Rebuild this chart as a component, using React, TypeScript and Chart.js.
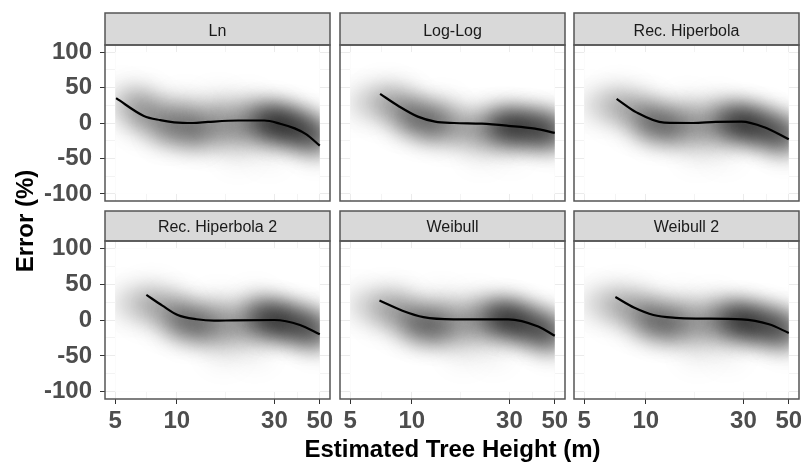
import React, { useEffect, useRef } from 'react';
import { Chart, registerables } from 'chart.js';

Chart.register(...registerables);

// ---------- data ----------
const PANEL_TITLES = ['Ln', 'Log-Log', 'Rec. Hiperbola', 'Rec. Hiperbola 2', 'Weibull', 'Weibull 2'];
const X_MAJOR = [5, 10, 30, 50];
const X_MINOR = [7.07, 17.32, 38.73];
const Y_MAJOR = [-100, -50, 0, 50, 100];
const Y_MINOR = [-75, -25, 25, 75];
const RASTER_X = [5, 50];
const RASTER_Y = [-100, 100];
const X_TITLE = 'Estimated Tree Height (m)';
const Y_TITLE = 'Error (%)';

// smoothed trend lines
const lnX = [5.05, 6.9, 8.3, 9.7, 12, 14.2, 20, 26.8, 32, 37.7, 43, 50];
const lnY = [35, 10, 4, 1, 0, 1.5, 3.5, 3.5, -1, -7.6, -16, -32];
const logLogX = [7.0, 8.6, 10.7, 13, 16.1, 22, 29.6, 40, 50];
const logLogY = [41, 24, 9, 2, 0, -1, -4, -8, -14];
const recHipX = [7.2, 9, 12.3, 17, 22, 29.4, 38, 50];
const recHipY = [34, 15, 0.5, 0, 1.5, 2, -6, -23];
const recHip2X = [7.1, 8.5, 10.1, 12.5, 15.2, 19, 30, 40, 50];
const recHip2Y = [35, 20, 7, 1, -1, -0.5, 0, -7, -20];
const weibullX = [6.95, 9, 11.4, 16, 22, 29.6, 41.5, 50];
const weibullY = [27, 13, 4, 1, 1, 1, -9, -22];
const weibull2X = [7.1, 8.8, 10.9, 14, 17.9, 29.4, 40, 50];
const weibull2Y = [32, 17, 7, 3, 2, 1, -6, -18];

// density clouds: [x, y, spread (%), density]
const lnDensity = [
  [6.5, 20, 26, 0.28], [7.5, 10, 26, 0.28], [9.4, 0, 26, 0.3], [11.7, -6, 26, 0.3], [14.6, -8, 26, 0.3],
  [18.3, -6, 26, 0.3], [22.9, -2, 26, 0.3], [28.6, 0, 26, 0.3], [35.8, -6, 26, 0.3], [44.7, -16, 24, 0.3],
  [50, -24, 24, 0.3],
  [11, 18, 20, 0.16], [16, 20, 20, 0.2], [22, 18, 20, 0.16],
  [9, -8, 18, 0.35], [12, -12, 18, 0.4],
  [27, 2, 18, 0.7], [31, 0, 18, 0.75], [35, -4, 18, 0.7], [40, -10, 17, 0.65], [46, -16, 16, 0.6],
  [5.4, 32, 20, 0.12], [6.3, 28, 18, 0.1],
  [20, -38, 22, 0.08], [28, -40, 20, 0.07],
];
const logLogDensity = [
  [7.5, 28, 24, 0.3], [9.4, 14, 24, 0.3], [11.7, 2, 24, 0.3], [14.6, -4, 24, 0.3], [18.3, -8, 24, 0.3],
  [22.9, -8, 24, 0.3], [28.6, -6, 24, 0.3], [35.8, -8, 24, 0.3], [44.7, -11, 24, 0.3], [50, -13, 24, 0.3],
  [10, 8, 18, 0.5], [12.5, 0, 18, 0.5],
  [27, -4, 18, 0.65], [31, -5, 18, 0.75], [36, -6, 18, 0.7], [42, -9, 17, 0.6], [48, -12, 16, 0.55],
  [9, 32, 18, 0.14], [14, 14, 20, 0.14],
  [5.5, 28, 20, 0.12], [6.5, 30, 18, 0.12],
  [22, -36, 22, 0.08], [30, -36, 20, 0.07],
];
const recHipDensity = [
  [7.5, 24, 24, 0.3], [9.4, 10, 24, 0.3], [11.7, -2, 24, 0.3], [14.6, -6, 24, 0.3], [18.3, -6, 24, 0.3],
  [22.9, -2, 24, 0.3], [28.6, 0, 24, 0.3], [35.8, -6, 24, 0.3], [44.7, -15, 24, 0.3], [50, -21, 24, 0.3],
  [10.5, 0, 18, 0.5], [13, -4, 18, 0.5],
  [26, 2, 18, 0.65], [30, 0, 18, 0.75], [34, -4, 18, 0.7], [40, -10, 17, 0.6], [46, -16, 16, 0.55],
  [10, 22, 18, 0.14], [16, 16, 20, 0.16], [22, 16, 20, 0.14],
  [5.5, 26, 20, 0.12], [6.5, 24, 18, 0.12],
  [18, -36, 22, 0.08], [24, -38, 20, 0.07],
];
const recHip2Density = [
  [7.5, 22, 24, 0.3], [9.4, 8, 24, 0.3], [11.7, -4, 24, 0.3], [14.6, -8, 24, 0.3], [18.3, -8, 24, 0.3],
  [22.9, -4, 24, 0.3], [28.6, 0, 24, 0.3], [35.8, -5, 24, 0.3], [44.7, -12, 24, 0.3], [50, -18, 24, 0.3],
  [10.5, -2, 18, 0.45], [13, -6, 18, 0.48],
  [26, 4, 18, 0.6], [30, 1, 18, 0.7], [34, -3, 18, 0.68], [40, -8, 17, 0.6], [46, -13, 16, 0.55],
  [10, 20, 18, 0.14], [16, 14, 20, 0.15], [24, 18, 20, 0.15],
  [5.5, 24, 20, 0.12], [6.5, 22, 18, 0.12],
  [17, -40, 22, 0.09], [24, -42, 20, 0.08],
];
const weibullDensity = [
  [7.5, 16, 24, 0.3], [9.4, 4, 24, 0.3], [11.7, -6, 24, 0.3], [14.6, -8, 24, 0.3], [18.3, -6, 24, 0.3],
  [22.9, -2, 24, 0.3], [28.6, 0, 24, 0.3], [35.8, -6, 24, 0.3], [44.7, -15, 24, 0.3], [50, -22, 24, 0.3],
  [10.5, -6, 18, 0.48], [13, -10, 18, 0.5],
  [26, 5, 18, 0.7], [30, 2, 18, 0.75], [34, -4, 18, 0.68], [40, -11, 17, 0.6], [46, -17, 16, 0.55],
  [9, 22, 18, 0.15], [14, 18, 20, 0.16], [20, 15, 20, 0.16],
  [5.5, 22, 20, 0.12], [6.5, 18, 18, 0.13],
  [18, -40, 22, 0.08], [25, -42, 20, 0.07],
];
const weibull2Density = [
  [7.5, 20, 24, 0.3], [9.4, 8, 24, 0.3], [11.7, -2, 24, 0.3], [14.6, -6, 24, 0.3], [18.3, -6, 24, 0.3],
  [22.9, -3, 24, 0.3], [28.6, -2, 24, 0.3], [35.8, -6, 24, 0.3], [44.7, -12, 24, 0.3], [50, -17, 24, 0.3],
  [10.5, -2, 18, 0.45], [13, -6, 18, 0.48],
  [26, 2, 18, 0.65], [30, -2, 18, 0.75], [34, -5, 18, 0.68], [40, -9, 17, 0.6], [46, -13, 16, 0.55],
  [10, 22, 18, 0.14], [15, 16, 20, 0.15], [21, 14, 20, 0.14],
  [5.5, 24, 20, 0.12], [6.5, 22, 18, 0.12],
  [18, -40, 22, 0.08], [25, -42, 20, 0.07],
];

const PANELS = [
  { x: lnX, y: lnY, d: lnDensity },
  { x: logLogX, y: logLogY, d: logLogDensity },
  { x: recHipX, y: recHipY, d: recHipDensity },
  { x: recHip2X, y: recHip2Y, d: recHip2Density },
  { x: weibullX, y: weibullY, d: weibullDensity },
  { x: weibull2X, y: weibull2Y, d: weibull2Density },
];

// ---------- layout ----------
const FONT = '"Liberation Sans", Arial, Helvetica, sans-serif';
const COL_LEFT = [105, 340, 574];
const PANEL_W = 225;
const STRIP_TOP = [13, 211];
const STRIP_H = [32, 30];
const PLOT_H = [156, 158];
const Y_AXIS_W = 105;
const X_AXIS_H = 40;
const FRAME = '#555555';
const GRID_MAJOR = '#EBEBEB';
const GRID_MINOR = '#F3F3F3';
const BLUR = 'blur(12px)';

const X_LOG_MIN = Math.pow(10, Math.log10(RASTER_X[0]) - 0.05);
const X_LOG_MAX = Math.pow(10, Math.log10(RASTER_X[1]) + 0.05);

function geometry(i: number) {
  const row = Math.floor(i / 3);
  const col = i % 3;
  const isLeft = col === 0;
  const isBottom = row === 1;
  const padL = isLeft ? 0 : 6;
  const padR = 8;
  const padT = 1;
  const padB = isBottom ? 0 : 2;
  const yw = isLeft ? Y_AXIS_W : 0;
  const xh = isBottom ? X_AXIS_H : 0;
  const left = COL_LEFT[col] - yw - padL;
  const top = STRIP_TOP[row] - padT;
  const width = padL + yw + PANEL_W + padR;
  const height = padT + STRIP_H[row] + PLOT_H[row] + xh + padB;
  return { row, col, isLeft, isBottom, padL, padR, padT, padB, yw, xh, left, top, width, height };
}

function rasterRect(chart: any) {
  const { scales } = chart;
  const l = scales.x.getPixelForValue(RASTER_X[0]);
  const r = scales.x.getPixelForValue(RASTER_X[1]);
  const t = scales.y.getPixelForValue(RASTER_Y[1]);
  const b = scales.y.getPixelForValue(RASTER_Y[0]);
  return { l, r, t, b };
}

const decoPlugin = {
  id: 'facetDeco',
  beforeDraw(chart: any) {
    const { ctx, chartArea: a } = chart;
    const tb = chart.titleBlock;
    ctx.save();
    ctx.fillStyle = '#D9D9D9';
    ctx.fillRect(a.left, tb.top, a.right - a.left, a.top - tb.top);
    ctx.fillStyle = '#FFFFFF';
    ctx.fillRect(a.left, a.top, a.right - a.left, a.bottom - a.top);
    ctx.restore();
  },
  beforeDatasetsDraw(chart: any) {
    const { ctx } = chart;
    const { l, r, t, b } = rasterRect(chart);
    ctx.save();
    ctx.fillStyle = '#FFFFFF';
    ctx.fillRect(l, t, r - l, b - t);
    ctx.restore();
  },
  beforeDatasetDraw(chart: any, args: any) {
    if (args.index !== 1) return;
    const { ctx } = chart;
    const { l, r, t, b } = rasterRect(chart);
    ctx.save();
    ctx.beginPath();
    ctx.rect(l, t, r - l, b - t);
    ctx.clip();
    ctx.filter = BLUR;
  },
  afterDatasetDraw(chart: any, args: any) {
    if (args.index !== 1) return;
    chart.ctx.restore();
  },
  afterDraw(chart: any) {
    const { ctx, chartArea: a } = chart;
    const tb = chart.titleBlock;
    ctx.save();
    ctx.strokeStyle = FRAME;
    ctx.lineWidth = 1.5;
    ctx.strokeRect(a.left, tb.top, a.right - a.left, a.top - tb.top);
    ctx.strokeRect(a.left, a.top, a.right - a.left, a.bottom - a.top);
    ctx.restore();
  },
};

function Panel({ index }: { index: number }) {
  const ref = useRef<HTMLCanvasElement | null>(null);
  const g = geometry(index);

  useEffect(() => {
    const canvas = ref.current;
    if (!canvas) return;
    const p = PANELS[index];
    const lineData = p.x.map((x, k) => ({ x, y: p.y[k] }));
    const densData = p.d.map((t) => ({ x: t[0], y: t[1], s: t[2], a: t[3] }));
    const xTicks = [...X_MAJOR, ...X_MINOR].sort((a, b) => a - b);
    const yTicks = [...Y_MAJOR, ...Y_MINOR].sort((a, b) => a - b);

    const chart = new Chart(canvas, {
      type: 'scatter',
      data: {
        datasets: [
          {
            type: 'line',
            data: lineData,
            borderColor: '#000000',
            borderWidth: 2.2,
            pointRadius: 0,
            cubicInterpolationMode: 'monotone',
            fill: false,
            order: 0,
          } as any,
          {
            type: 'scatter',
            data: densData,
            showLine: false,
            pointBorderWidth: 0,
            pointRadius: (c: any) => {
              const s = c.chart.scales.y;
              const raw = c.raw || { s: 0 };
              return Math.abs(s.getPixelForValue(0) - s.getPixelForValue(raw.s));
            },
            pointBackgroundColor: (c: any) => `rgba(0,0,0,${c.raw ? c.raw.a : 0})`,
            order: 1,
          } as any,
        ],
      },
      options: {
        animation: false,
        responsive: false,
        maintainAspectRatio: false,
        devicePixelRatio: 1,
        events: [],
        layout: { padding: { left: g.padL, right: g.padR, top: g.padT, bottom: g.padB } },
        plugins: {
          legend: { display: false },
          tooltip: { enabled: false },
          title: {
            display: true,
            text: PANEL_TITLES[index],
            fullSize: false,
            color: '#1A1A1A',
            font: { family: FONT, size: 16, weight: 'normal', lineHeight: '19px' } as any,
            padding: { top: STRIP_H[g.row] - 19 - 4, bottom: 4 },
          },
        },
        scales: {
          x: {
            type: 'logarithmic',
            position: 'bottom',
            min: X_LOG_MIN,
            max: X_LOG_MAX,
            afterBuildTicks: (s: any) => {
              s.ticks = xTicks.map((v) => ({ value: v }));
            },
            afterFit: (s: any) => {
              s.height = g.xh;
              s.paddingLeft = 0;
              s.paddingRight = 0;
            },
            border: { display: false },
            grid: {
              color: (c: any) => (c.tick && X_MAJOR.includes(c.tick.value) ? GRID_MAJOR : GRID_MINOR),
              lineWidth: 1,
              drawTicks: g.isBottom,
              tickLength: 5,
              tickWidth: 1,
              tickColor: (c: any) => (c.tick && X_MAJOR.includes(c.tick.value) ? '#333333' : 'rgba(0,0,0,0)'),
            },
            ticks: {
              display: g.isBottom,
              autoSkip: false,
              maxRotation: 0,
              minRotation: 0,
              padding: 3,
              color: '#4D4D4D',
              font: { family: FONT, size: 24, weight: 'bold' },
              callback: (v: any) => (X_MAJOR.includes(v) ? String(v) : ''),
            },
          } as any,
          y: {
            type: 'linear',
            position: 'left',
            min: -110,
            max: 110,
            afterBuildTicks: (s: any) => {
              s.ticks = yTicks.map((v) => ({ value: v }));
            },
            afterFit: (s: any) => {
              s.width = g.yw;
              s.paddingTop = 0;
              s.paddingBottom = 0;
            },
            border: { display: false },
            grid: {
              color: (c: any) => (c.tick && Y_MAJOR.includes(c.tick.value) ? GRID_MAJOR : GRID_MINOR),
              lineWidth: 1,
              drawTicks: g.isLeft,
              tickLength: 5,
              tickWidth: 1,
              tickColor: (c: any) => (c.tick && Y_MAJOR.includes(c.tick.value) ? '#333333' : 'rgba(0,0,0,0)'),
            },
            ticks: {
              display: g.isLeft,
              autoSkip: false,
              padding: 8,
              color: '#4D4D4D',
              font: { family: FONT, size: 24, weight: 'bold' },
              callback: (v: any) => (Y_MAJOR.includes(v) ? String(v) : ''),
            },
          } as any,
        },
      },
      plugins: [decoPlugin],
    });
    return () => chart.destroy();
  }, [index]);

  return (
    <canvas
      ref={ref}
      width={g.width}
      height={g.height}
      style={{ position: 'absolute', left: g.left, top: g.top, width: g.width, height: g.height, display: 'block' }}
    />
  );
}

export default function App() {
  return (
    <div style={{ position: 'fixed', left: 0, top: 0, width: 801, height: 463, background: '#FFFFFF', overflow: 'hidden' }}>
      {PANEL_TITLES.map((_, i) => (
        <Panel key={i} index={i} />
      ))}
      <div
        style={{
          position: 'absolute', left: 152, top: 437, width: 601, height: 24, lineHeight: '24px',
          textAlign: 'center', fontFamily: FONT, fontWeight: 'bold', fontSize: 24, color: '#000', whiteSpace: 'nowrap',
        }}
      >
        {X_TITLE}
      </div>
      <div
        style={{
          position: 'absolute', left: -75, top: 208.5, width: 200, height: 24, lineHeight: '24px',
          textAlign: 'center', fontFamily: FONT, fontWeight: 'bold', fontSize: 24, color: '#000', whiteSpace: 'nowrap',
          transform: 'rotate(-90deg)',
        }}
      >
        {Y_TITLE}
      </div>
    </div>
  );
}
